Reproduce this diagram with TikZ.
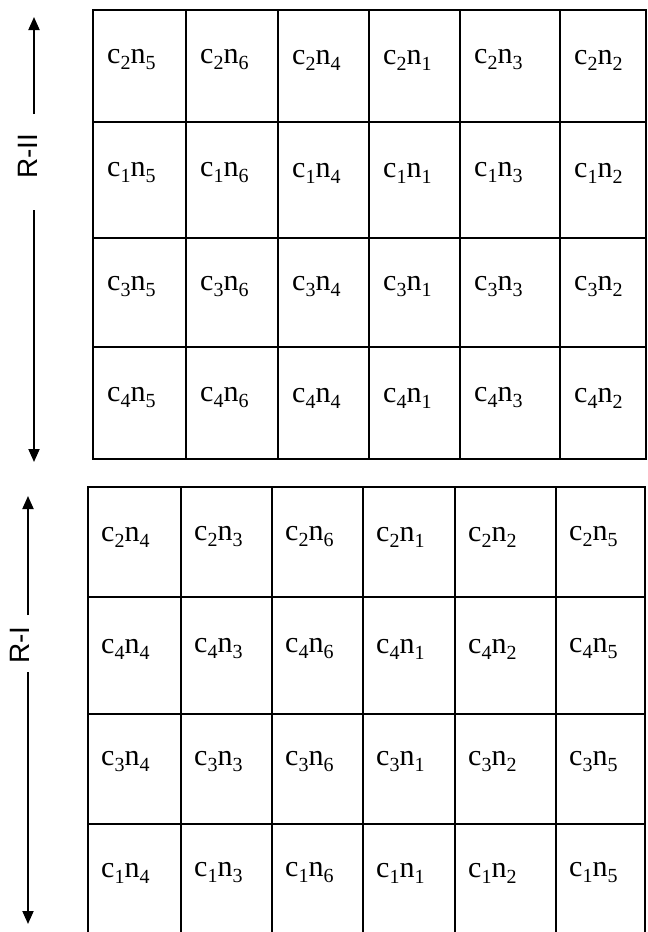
\documentclass[tikz,border=0pt]{standalone}
\usepackage{fontspec}
\setmainfont{Liberation Serif}
\newfontfamily\labfont{Liberation Sans}
\usetikzlibrary{arrows.meta}
\newcommand\cellsub[1]{\raisebox{-0.2em}{\fontsize{20}{20}\selectfont #1}}
\newcommand\cnlab[2]{c\cellsub{#1}n\cellsub{#2}}
\begin{document}
\begin{tikzpicture}[x=1pt,y=-1pt,
  gridline/.style={line width=1.9pt, line cap=rect},
  celltext/.style={anchor=west, font=\fontsize{30}{32}\selectfont, inner sep=0pt},
  rlabel/.style={rotate=90, font=\labfont\fontsize{28}{30}\selectfont, inner sep=0pt},
  rarrow/.style={line width=1.9pt, -{Triangle[length=13pt,width=11pt]}}]
\useasboundingbox (0,0) rectangle (648,932);
% ---------- top grid (R-II) ----------
\foreach \y in {10,122,238,347,459} \draw[gridline] (93,\y) -- (646,\y);
\foreach \x in {93,186,278,369,460,560,646} \draw[gridline] (\x,10) -- (\x,459);
\foreach \c [count=\r] in {2,1,3,4} {
  \foreach \n [count=\k] in {5,6,4,1,3,2} {
    \pgfmathsetmacro\xx{{93,186,278,369,460,560}[\k-1]+14}
    \pgfmathsetmacro\yy{{60,173,287,398}[\r-1]}
    \node[celltext] (T\r-\k) at (\xx,\yy) {\cnlab{\c}{\n}};
  }
}
% ---------- bottom grid (R-I) ----------
\foreach \y in {487,597,714,824} \draw[gridline] (88,\y) -- (645,\y);
\foreach \x in {88,181,272,363,455,556,645} \draw[gridline] (\x,487) -- (\x,940);
\foreach \c/\nlist [count=\r] in {2/{4,3,6,1,2,5},4/{4,3,6,1,2,5},3/{4,3,6,1,2,5},1/{4,3,6,1,2,5}} {
  \foreach \n [count=\k] in \nlist {
    \pgfmathsetmacro\xx{{88,181,272,363,455,556}[\k-1]+13}
    \pgfmathsetmacro\yy{{537,649,762,873}[\r-1]}
    \node[celltext] (B\r-\k) at (\xx,\yy) {\cnlab{\c}{\n}};
  }
}
% ---------- R-II arrow ----------
\coordinate (a2top) at (34,17);
\coordinate (a2up) at (34,114);
\coordinate (a2lo) at (34,210);
\coordinate (a2bot) at (34,462);
\draw[rarrow] (a2up) -- (a2top);
\draw[rarrow] (a2lo) -- (a2bot);
\node[rlabel] (lab2) at (28,156) {R-II};
% ---------- R-I arrow ----------
\coordinate (a1top) at (28,496);
\coordinate (a1up) at (28,615);
\coordinate (a1lo) at (28,672);
\coordinate (a1bot) at (28,924);
\draw[rarrow] (a1up) -- (a1top);
\draw[rarrow] (a1lo) -- (a1bot);
\node[rlabel] (lab1) at (20,645) {R-I};
\end{tikzpicture}
\end{document}
